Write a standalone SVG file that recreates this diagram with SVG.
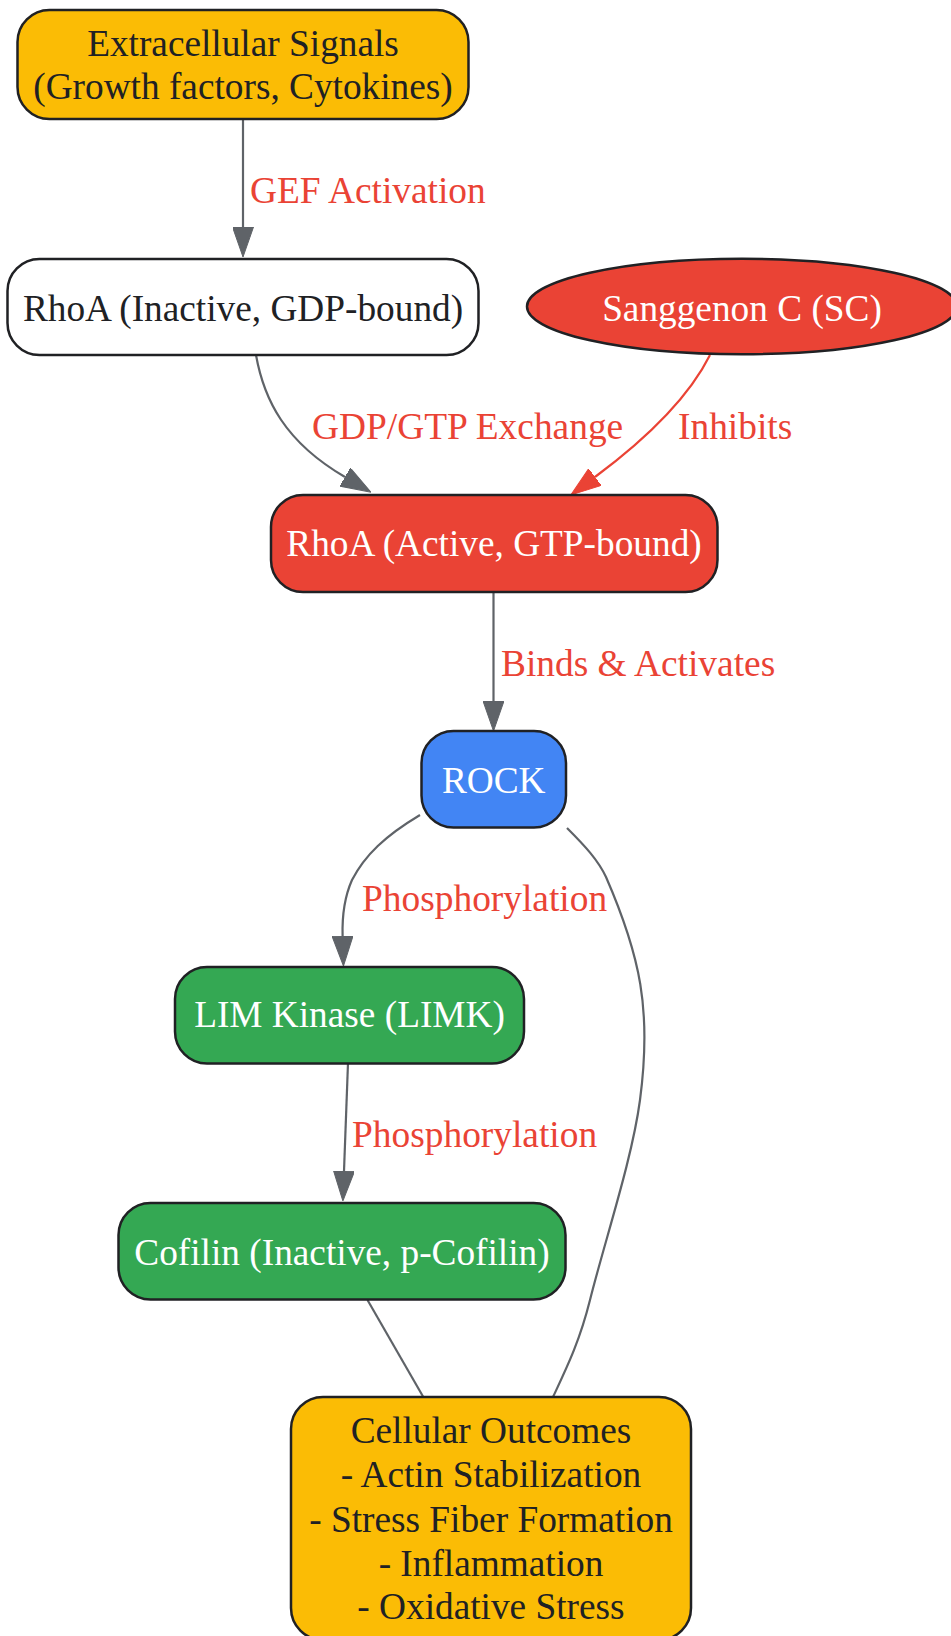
<svg xmlns="http://www.w3.org/2000/svg" width="951" height="1636" viewBox="0 0 951 1636">
<defs>
<style>
.box{stroke:#202124;stroke-width:2.5}
.t{font-family:"Liberation Serif","Times New Roman",serif;font-size:37.3px;text-anchor:middle}
.dark{fill:#202124}
.light{fill:#ffffff}
.lbl{font-family:"Liberation Serif","Times New Roman",serif;font-size:37.4px;fill:#EA4335}
.e{fill:none;stroke:#5F6368;stroke-width:2.2}
.er{fill:none;stroke:#EA4335;stroke-width:2.2}
</style>
<marker id="ag" viewBox="0 0 30 21" refX="0" refY="10.5" markerWidth="30" markerHeight="21" markerUnits="userSpaceOnUse" orient="auto">
<path d="M0,0 L30,10.5 L0,21 z" fill="#5F6368" stroke="#5F6368" stroke-width="1"/>
</marker>
<marker id="ar" viewBox="0 0 30 21" refX="0" refY="10.5" markerWidth="30" markerHeight="21" markerUnits="userSpaceOnUse" orient="auto">
<path d="M0,0 L30,10.5 L0,21 z" fill="#EA4335" stroke="#EA4335" stroke-width="1"/>
</marker>
</defs>
<rect width="951" height="1636" fill="#ffffff"/>
<g id="edges">
<path class="e" d="M243,119 L243,227" marker-end="url(#ag)"/>
<text class="lbl" x="250" y="203">GEF Activation</text>
<path class="e" d="M256,355 C264,400 285,442 345,477" marker-end="url(#ag)"/>
<text class="lbl" x="312" y="439">GDP/GTP Exchange</text>
<path class="er" d="M710,355 C695,385 665,425 595,477" marker-end="url(#ar)"/>
<text class="lbl" x="678" y="439">Inhibits</text>
<path class="e" d="M493.5,592 L493.5,701" marker-end="url(#ag)"/>
<text class="lbl" x="501" y="676">Binds &amp; Activates</text>
<path class="e" d="M420,815 C385,836 365,855 352,880 C344,898 342,915 342.6,936" marker-end="url(#ag)"/>
<text class="lbl" x="362" y="911">Phosphorylation</text>
<path class="e" d="M348,1063 L344,1171" marker-end="url(#ag)"/>
<text class="lbl" x="352" y="1147">Phosphorylation</text>
<path class="e" d="M367.5,1300 L423.3,1397"/>
<path class="e" d="M567,828 C585,846 598,860 606,877 C640,955 652,1010 640,1100 C632,1160 605,1240 590,1300 C580,1340 568,1365 553,1397"/>
</g>
<g id="extracellular">
<rect class="box" x="17.5" y="10" width="451" height="109" rx="32" fill="#FBBC05"/>
<text class="t dark" x="243" y="55.5">Extracellular Signals</text>
<text class="t dark" x="243" y="98.7">(Growth factors, Cytokines)</text>
</g>
<g id="rhoa_inactive">
<rect class="box" x="7.5" y="259" width="471" height="96" rx="32" fill="#ffffff"/>
<text class="t dark" x="243" y="320.7">RhoA (Inactive, GDP-bound)</text>
</g>
<g id="sanggenon">
<ellipse class="box" cx="742" cy="306.5" rx="215" ry="47.8" fill="#EA4335"/>
<text class="t light" x="742" y="320.7">Sanggenon C (SC)</text>
</g>
<g id="rhoa_active">
<rect class="box" x="271" y="495" width="446.5" height="97" rx="32" fill="#EA4335"/>
<text class="t light" x="494" y="555.7">RhoA (Active, GTP-bound)</text>
</g>
<g id="rock">
<rect class="box" x="421.5" y="731" width="144.5" height="96.5" rx="32" fill="#4285F4"/>
<text class="t light" x="493.7" y="792.6">ROCK</text>
</g>
<g id="limk">
<rect class="box" x="175" y="967" width="349" height="96.5" rx="32" fill="#34A853"/>
<text class="t light" x="349.5" y="1027.2">LIM Kinase (LIMK)</text>
</g>
<g id="cofilin">
<rect class="box" x="118.5" y="1203" width="447" height="96.5" rx="32" fill="#34A853"/>
<text class="t light" x="342" y="1264.5">Cofilin (Inactive, p-Cofilin)</text>
</g>
<g id="outcomes">
<rect class="box" x="291" y="1397" width="400" height="243" rx="32" fill="#FBBC05"/>
<text class="t dark" x="491" y="1443.3">Cellular Outcomes</text>
<text class="t dark" x="491" y="1487.3">- Actin Stabilization</text>
<text class="t dark" x="491" y="1531.7">- Stress Fiber Formation</text>
<text class="t dark" x="491" y="1576">- Inflammation</text>
<text class="t dark" x="491" y="1619.3">- Oxidative Stress</text>
</g>
</svg>
